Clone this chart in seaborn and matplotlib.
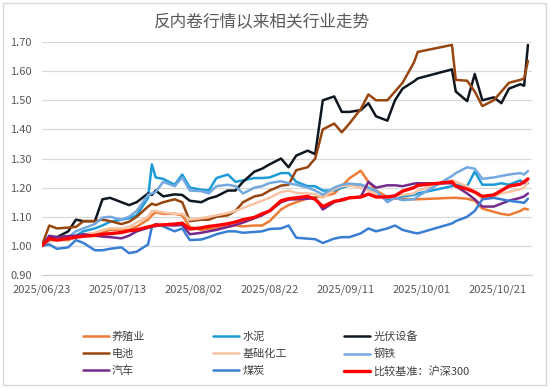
import pandas as pd
import seaborn as sns
import matplotlib.dates as mdates
from matplotlib import pyplot as plt
from matplotlib.patches import Rectangle

dates = ['2025-06-23', '2025-06-25', '2025-06-27', '2025-06-30', '2025-07-02', '2025-07-04',
         '2025-07-07', '2025-07-09', '2025-07-11', '2025-07-14', '2025-07-16', '2025-07-18',
         '2025-07-21', '2025-07-22', '2025-07-23', '2025-07-25', '2025-07-28', '2025-07-30',
         '2025-08-01', '2025-08-04', '2025-08-06', '2025-08-08', '2025-08-11', '2025-08-13',
         '2025-08-15', '2025-08-18', '2025-08-20', '2025-08-22', '2025-08-25', '2025-08-27',
         '2025-08-29', '2025-09-01', '2025-09-03', '2025-09-05', '2025-09-08', '2025-09-10',
         '2025-09-12', '2025-09-15', '2025-09-17', '2025-09-19', '2025-09-22', '2025-09-24',
         '2025-09-26', '2025-09-29', '2025-09-30', '2025-10-09', '2025-10-10', '2025-10-13',
         '2025-10-15', '2025-10-17', '2025-10-20', '2025-10-22', '2025-10-24', '2025-10-27',
         '2025-10-28', '2025-10-29']

yangzhi = [1.00, 1.02, 1.02, 1.02, 1.03, 1.035, 1.04, 1.045, 1.055, 1.055, 1.055, 1.066,
           1.09, 1.105, 1.115, 1.11, 1.11, 1.105, 1.065, 1.055, 1.058, 1.06, 1.067, 1.07,
           1.067, 1.07, 1.07, 1.085, 1.125, 1.14, 1.15, 1.163, 1.168, 1.17, 1.18, 1.205,
           1.232, 1.258, 1.22, 1.19, 1.168, 1.162, 1.162, 1.16, 1.16, 1.165, 1.165, 1.162,
           1.155, 1.128, 1.117, 1.11, 1.106, 1.12, 1.128, 1.125]
shuini = [1.00, 1.02, 1.02, 1.025, 1.035, 1.05, 1.06, 1.07, 1.083, 1.09, 1.095, 1.105,
          1.165, 1.28, 1.235, 1.23, 1.21, 1.245, 1.20, 1.193, 1.19, 1.233, 1.245, 1.22,
          1.225, 1.233, 1.233, 1.235, 1.25, 1.25, 1.22, 1.205, 1.205, 1.19, 1.19, 1.20,
          1.208, 1.21, 1.20, 1.18, 1.16, 1.165, 1.17, 1.175, 1.18, 1.205, 1.21, 1.205,
          1.255, 1.21, 1.21, 1.215, 1.21, 1.225, 1.215, 1.215]
guangfu = [1.00, 1.03, 1.03, 1.05, 1.09, 1.085, 1.085, 1.16, 1.165, 1.15, 1.14, 1.15,
           1.18, 1.175, 1.19, 1.17, 1.177, 1.175, 1.155, 1.15, 1.163, 1.17, 1.19, 1.19,
           1.22, 1.255, 1.265, 1.28, 1.30, 1.27, 1.31, 1.327, 1.315, 1.50, 1.513, 1.46,
           1.46, 1.466, 1.49, 1.445, 1.43, 1.50, 1.54, 1.565, 1.575, 1.606, 1.53, 1.497,
           1.59, 1.50, 1.51, 1.49, 1.54, 1.555, 1.55, 1.69]
dianchi = [1.00, 1.07, 1.06, 1.063, 1.065, 1.085, 1.085, 1.09, 1.085, 1.075, 1.083, 1.10,
           1.135, 1.145, 1.14, 1.15, 1.16, 1.15, 1.085, 1.09, 1.09, 1.10, 1.105, 1.12,
           1.15, 1.17, 1.175, 1.19, 1.207, 1.21, 1.26, 1.27, 1.30, 1.40, 1.42, 1.39,
           1.42, 1.47, 1.52, 1.50, 1.50, 1.53, 1.56, 1.63, 1.666, 1.69, 1.57, 1.567,
           1.53, 1.48, 1.50, 1.53, 1.56, 1.57, 1.575, 1.635]
jichu = [1.00, 1.015, 1.02, 1.025, 1.03, 1.04, 1.045, 1.055, 1.06, 1.06, 1.065, 1.08,
         1.10, 1.12, 1.12, 1.115, 1.11, 1.11, 1.09, 1.095, 1.10, 1.105, 1.113, 1.12,
         1.13, 1.145, 1.155, 1.165, 1.185, 1.19, 1.182, 1.18, 1.178, 1.165, 1.195, 1.205,
         1.208, 1.20, 1.19, 1.18, 1.165, 1.17, 1.175, 1.18, 1.19, 1.225, 1.22, 1.205,
         1.185, 1.16, 1.17, 1.18, 1.185, 1.195, 1.20, 1.22]
gangtie = [1.00, 1.02, 1.025, 1.03, 1.05, 1.06, 1.075, 1.097, 1.10, 1.09, 1.10, 1.12,
           1.175, 1.18, 1.185, 1.22, 1.205, 1.235, 1.19, 1.188, 1.18, 1.205, 1.21, 1.205,
           1.18, 1.20, 1.205, 1.216, 1.222, 1.215, 1.21, 1.20, 1.19, 1.176, 1.20, 1.21,
           1.214, 1.21, 1.20, 1.19, 1.15, 1.165, 1.157, 1.16, 1.17, 1.24, 1.25, 1.27,
           1.265, 1.23, 1.235, 1.24, 1.245, 1.25, 1.245, 1.257]
qiche = [1.00, 1.035, 1.03, 1.034, 1.035, 1.04, 1.035, 1.032, 1.03, 1.026, 1.035, 1.05,
         1.062, 1.066, 1.068, 1.072, 1.07, 1.072, 1.04, 1.045, 1.05, 1.055, 1.065, 1.072,
         1.08, 1.095, 1.105, 1.12, 1.15, 1.159, 1.16, 1.162, 1.164, 1.125, 1.15, 1.16,
         1.165, 1.168, 1.22, 1.20, 1.208, 1.208, 1.205, 1.214, 1.215, 1.215, 1.205, 1.18,
         1.16, 1.135, 1.135, 1.145, 1.155, 1.165, 1.17, 1.18]
meitan = [1.00, 1.005, 0.99, 0.995, 1.02, 1.01, 0.985, 0.985, 0.99, 0.995, 0.975, 0.98,
          1.005, 1.065, 1.075, 1.067, 1.05, 1.06, 1.02, 1.022, 1.03, 1.04, 1.05, 1.05,
          1.045, 1.048, 1.05, 1.058, 1.06, 1.07, 1.028, 1.025, 1.023, 1.01, 1.025, 1.03,
          1.03, 1.043, 1.06, 1.05, 1.06, 1.07, 1.055, 1.045, 1.043, 1.077, 1.085, 1.10,
          1.12, 1.16, 1.165, 1.16, 1.155, 1.15, 1.148, 1.162]
hs300 = [1.00, 1.025, 1.02, 1.026, 1.03, 1.033, 1.036, 1.04, 1.042, 1.046, 1.052, 1.055,
         1.065, 1.068, 1.072, 1.072, 1.075, 1.078, 1.058, 1.062, 1.067, 1.07, 1.076, 1.082,
         1.09, 1.098, 1.11, 1.12, 1.155, 1.162, 1.165, 1.17, 1.16, 1.135, 1.153, 1.157,
         1.165, 1.168, 1.178, 1.168, 1.168, 1.172, 1.188, 1.20, 1.208, 1.22, 1.205, 1.195,
         1.185, 1.17, 1.175, 1.19, 1.205, 1.212, 1.22, 1.23]

names = ['养殖业', '水泥', '光伏设备', '电池', '基础化工', '钢铁', '汽车', '煤炭', '比较基准：沪深300']
series = [yangzhi, shuini, guangfu, dianchi, jichu, gangtie, qiche, meitan, hs300]
colors = ['#EE7B35', '#1D9BD6', '#0E1620', '#984610', '#F7C3A3', '#73A8E0', '#742A8C', '#3A7ED3', '#FF0000']

df = pd.DataFrame({'日期': pd.to_datetime(dates)})
for name, vals in zip(names, series):
    df[name] = vals
plotData = pd.melt(df, id_vars=['日期'], var_name='行业', value_name='值')

sns.set_style('white')
plt.rcParams['font.family'] = ['Noto Sans CJK SC', 'DejaVu Sans']

fig = plt.figure(figsize=(5.5, 3.89), dpi=100)
ax = fig.add_axes([0.0758, 0.293, 0.891, 0.599])

for name, color in zip(names, colors):
    lw = 2.4 if name == names[-1] else 1.8
    sns.lineplot(data=plotData[plotData['行业'] == name], x='日期', y='值',
                 color=color, linewidth=lw, label=name, ax=ax)

ax.set_ylim(0.9, 1.7)
ax.set_yticks([0.9 + 0.1 * i for i in range(9)])
ax.yaxis.set_major_formatter(plt.FormatStrFormatter('%.2f'))
ax.set_xlim(pd.Timestamp('2025-06-23'), pd.Timestamp('2025-10-30'))
ax.set_xticks(pd.date_range('2025-06-23', periods=7, freq='20D'))
ax.xaxis.set_major_formatter(mdates.DateFormatter('%Y/%m/%d'))
ax.set_xlabel('')
ax.set_ylabel('')
ax.grid(True, axis='y', color='#D9D9D9', linewidth=0.9)
ax.set_axisbelow(True)
for s in ['left', 'right', 'top']:
    ax.spines[s].set_visible(False)
ax.spines['bottom'].set_color('#D0D0D0')
ax.tick_params(axis='y', length=0, pad=7, labelsize=8, labelcolor='#595959')
ax.tick_params(axis='x', length=3, color='#D0D0D0', pad=3.5, labelsize=8, labelcolor='#595959')

handles, labels = ax.get_legend_handles_labels()
ax.get_legend().remove()
colX = [0.143, 0.38, 0.618]
for c in range(3):
    idx = [c, c + 3, c + 6]
    fig.legend([handles[i] for i in idx], [labels[i] for i in idx], loc='upper left',
               bbox_to_anchor=(colX[c], 0.16), frameon=False, fontsize=8,
               handlelength=2.3, handletextpad=0.3, labelspacing=0.62, borderaxespad=0,
               labelcolor='#404040')

fig.text(0.474, 0.945, '反内卷行情以来相关行业走势', ha='center', va='center',
         fontsize=12, color='#595959')
fig.patches.append(Rectangle((0.0055, 0.0103), 0.987, 0.982, transform=fig.transFigure,
                             fill=False, edgecolor='#D9D9D9', linewidth=1))

fig.savefig('out.png', dpi=100)
